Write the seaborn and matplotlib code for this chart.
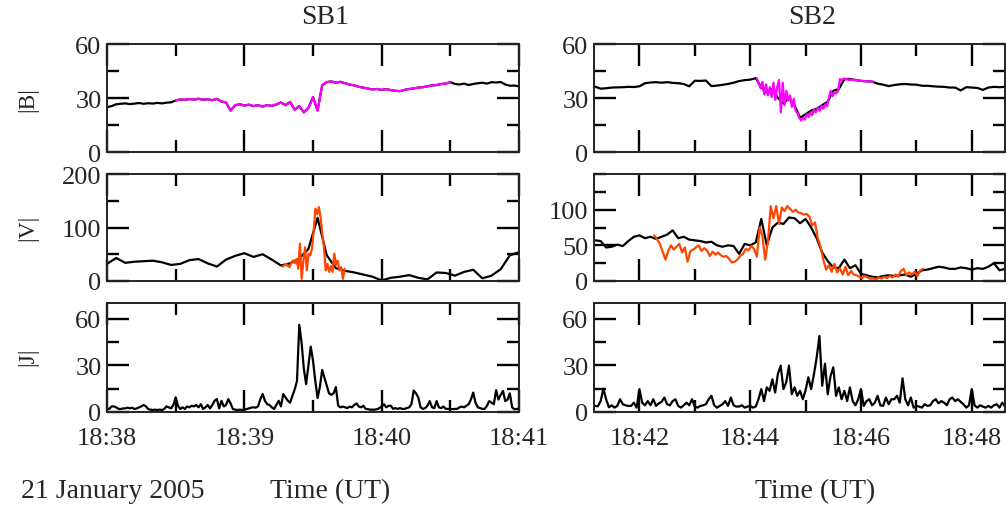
import numpy as np
import matplotlib
matplotlib.use("Agg")
import matplotlib.pyplot as plt
from matplotlib.ticker import MultipleLocator, FixedLocator, FuncFormatter
import seaborn as sns

# times are minutes after 18:00 UT, 21 January 2005

# ---- SB1 ----
# |B| spin res, 2 s cadence from 18:38:00
sb1_b = [24.9, 25.5, 26.5, 26.8, 27.0, 26.6, 26.9, 27.2, 26.8, 27.1,
         26.9, 27.3, 27.0, 27.4, 27.6, 28.6, 29.2, 29.0, 29.4, 29.1,
         29.6, 29.0, 29.3, 28.8, 29.5, 28.0, 27.5, 23.0, 26.0, 26.5,
         25.8, 26.3, 25.5, 26.0, 25.2, 26.1, 25.6, 26.4, 27.5, 26.0,
         27.8, 23.5, 25.5, 22.0, 24.5, 30.5, 23.0, 37.0, 38.8, 39.2,
         38.5, 39.0, 38.2, 37.5, 37.0, 36.2, 35.8, 35.2, 34.8, 35.0,
         34.5, 34.9, 34.4, 34.0, 33.8, 34.5, 35.0, 35.3, 35.8, 36.0,
         36.5, 37.0, 37.2, 37.8, 38.0, 38.8, 37.8, 37.5, 38.0, 37.2,
         37.8, 38.2, 38.5, 38.0, 38.8, 38.6, 38.9, 37.5, 36.8, 36.9,
         36.5]
sb1_b_t0, sb1_b_dt = 38.0, 2 / 60
sb1_hr = (38.5, 40.5)  # interval shown in magenta

# |V| ions, 4 s cadence from 18:38:00
sb1_v = [32, 43, 34, 36, 37, 38, 35, 30, 32, 39,
         41, 33, 27, 40, 47, 52, 45, 50, 40, 29,
         33, 42, 60, 118, 48, 24, 19, 16, 12, 8,
         1, 6, 8, 11, 6, 3, 16, 15, 10, 17,
         21, 5, 10, 22, 48, 54]
sb1_v_t0, sb1_v_dt = 38.0, 4 / 60

# |V| electrons (orange), 0.75 s cadence
sb1_ve = [27, 30, 32, 28, 26, 35, 38.5, 33, 41, 23,
          70, 4, 38, 63, 20, 51, 48, 60, 94, 135,
          125, 138, 119, 88, 63, 20, 32, 17, 28, 17,
          51, 30, 38, 20, 26, 4, 23]
sb1_ve_t0, sb1_ve_dt = 39.28, 0.75 / 60

# |J|, 1 s cadence from 18:38:00
sb1_j = [1.9, 2.0, 3.6, 3.6, 3.0, 2.0, 1.9, 2.3, 2.3, 2.8,
         2.3, 2.8, 1.9, 2.3, 3.0, 3.6, 4.5, 3.6, 1.9, 1.5,
         1.3, 1.5, 1.3, 1.5, 1.3, 1.9, 3.6, 3.0, 2.3, 4.5,
         9.4, 4.0, 1.9, 3.0, 1.9, 3.6, 3.0, 4.0, 3.6, 4.5,
         3.0, 5.0, 1.9, 3.0, 4.5, 2.3, 4.5, 7.2, 8.3, 2.3,
         7.2, 3.6, 4.5, 8.3, 5.5, 1.9, 1.5, 1.3, 1.5, 1.3,
         1.5, 1.9, 2.3, 2.8, 3.0, 2.8, 3.6, 8.3, 11.5, 7.2,
         5.0, 4.5, 3.0, 1.9, 4.5, 7.2, 3.6, 11.5, 9.4, 7.2,
         6.0, 10.4, 14.5, 19.8, 56.0, 44.7, 27.7, 17.9, 30.0, 42.0,
         33.0, 20.0, 9.0, 16.0, 27.0, 22.0, 17.0, 12.0, 11.0, 12.0,
         16.0, 4.0, 3.0, 3.5, 3.0, 2.5, 3.5, 3.0, 4.5, 5.5,
         3.5, 3.0, 4.0, 2.0, 1.8, 1.5, 1.5, 1.5, 1.8, 2.5,
         3.5, 5.0, 3.0, 4.0, 4.0, 2.0, 2.5, 2.0, 2.5, 2.0,
         2.0, 2.5, 3.0, 5.0, 13.8, 12.0, 9.4, 3.0, 2.0, 2.5,
         4.0, 7.0, 3.0, 2.5, 7.0, 3.0, 2.5, 3.5, 2.0, 2.0,
         2.0, 1.8, 2.0, 2.0, 3.0, 3.5, 3.0, 4.0, 5.0, 8.0,
         12.5, 6.0, 3.0, 2.5, 2.0, 2.0, 4.0, 7.0, 6.0, 5.0,
         14.0, 8.0, 11.0, 13.5, 7.0, 8.0, 12.0, 3.0, 1.8, 2.0,
         2.0]
sb1_j_t0, sb1_j_dt = 38.0, 1 / 60

# ---- SB2 ----
# |B| spin res, 6 s cadence from 18:41:12
sb2_b = [36.3, 35.2, 35.4, 35.8, 35.9, 36.0, 36.2, 36.1, 36.5, 38.2,
         38.6, 38.8, 38.5, 38.8, 38.4, 38.2, 37.8, 36.5, 39.6, 39.5,
         39.7, 36.6, 36.9, 37.3, 37.8, 38.5, 39.4, 39.9, 40.2, 41.0,
         36.0, 33.0, 35.0, 30.0, 27.0, 30.0, 26.0, 19.0, 21.0, 23.0,
         24.0, 26.0, 28.0, 34.0, 35.0, 40.5, 40.6, 40.0, 39.5, 39.3,
         39.1, 38.0, 37.4, 36.6, 37.2, 37.6, 37.8, 37.5, 37.4, 36.8,
         36.8, 36.5, 36.3, 36.2, 35.8, 35.8, 34.2, 36.0, 35.8, 35.6,
         34.5, 35.8, 36.2, 36.0, 36.2]
sb2_b_t0, sb2_b_dt = 41.2, 0.1

# |B| high res (magenta), 2 s cadence from 18:44:07
sb2_bh = [41.0, 38.0, 35.5, 39.0, 32.0, 37.5, 31.5, 36.0, 30.5, 38.5,
          29.0, 36.0, 40.0, 22.0, 38.5, 26.0, 34.0, 28.5, 31.5, 25.0,
          29.5, 23.0, 21.5, 19.0, 17.5, 19.0, 18.0, 21.0, 19.5, 22.0,
          20.5, 23.5, 22.0, 24.5, 23.0, 25.5, 24.0, 26.5, 25.5, 30.0,
          34.0, 31.0, 33.5, 32.5, 34.0, 40.5, 40.0, 40.8, 40.2, 40.5,
          40.0, 40.3, 39.9, 40.1, 39.7, 39.9, 39.5, 39.6, 39.3, 39.4,
          39.1, 39.2, 39.0, 39.1]
sb2_bh_t0, sb2_bh_dt = 44.12, 2 / 60

# |V| ions, 6 s cadence from 18:41:12
sb2_v = [57, 56, 47, 48, 51, 49, 56, 62, 64, 60,
         62, 59, 62, 65, 71, 60, 62, 58, 57, 56,
         54, 55, 50, 48, 50, 49, 38, 52, 50, 54,
         87, 50, 75, 82, 80, 89, 88, 81, 87, 75,
         60, 40, 28, 19, 18, 30, 18, 22, 10, 8,
         6, 5, 7, 8, 7, 8, 9, 6, 10, 15,
         16, 18, 20, 19, 17, 17, 19, 18, 16, 18,
         17, 20, 25, 15, 17]
sb2_v_t0, sb2_v_dt = 41.2, 0.1

# |V| electrons (orange), 3 s cadence from 18:42:16
sb2_ve = [64, 58, 52, 41, 30, 42, 50, 44, 48, 52,
          40, 47, 27, 42, 44, 47, 50, 42, 46, 43,
          35, 41, 37, 40, 36, 34, 35, 31, 26, 27,
          30, 35, 38, 45, 43, 49, 45, 34, 75, 63,
          30, 55, 105, 88, 105, 80, 103, 98, 105, 101,
          97, 100, 96, 95, 93, 94, 90, 78, 82, 60,
          48, 30, 16, 22, 13, 24, 12, 18, 9, 20,
          8, 14, 9, 8, 6, 4, 7, 5, 3, 4,
          1.5, 5, 3.5, 6, 4, 7, 5, 9, 6, 14,
          17, 8, 12, 9, 13, 7, 15, 17]
sb2_ve_t0, sb2_ve_dt = 42.27, 0.05

# |J|, 3 s cadence from 18:41:12
sb2_j = [3.9, 3.7, 7.0, 15.0, 8.0, 3.0, 4.3, 2.8, 3.9, 8.2,
         5.0, 4.3, 3.9, 3.9, 6.0, 2.8, 14.7, 6.0, 4.3, 7.0,
         4.3, 8.2, 3.9, 5.6, 6.5, 9.3, 5.0, 4.3, 7.0, 8.2,
         3.9, 2.8, 4.3, 6.0, 4.3, 8.2, 3.5, 2.8, 3.9, 4.3,
         5.0, 8.2, 10.4, 4.3, 2.8, 3.9, 5.0, 7.0, 3.9, 9.3,
         4.3, 3.5, 3.5, 4.3, 2.8, 3.5, 3.9, 2.8, 3.5, 8.2,
         14.7, 7.0, 15.8, 13.6, 21.0, 12.5, 24.4, 29.8, 14.7, 19.0,
         29.8, 11.4, 15.8, 10.4, 13.6, 8.2, 14.0, 22.3, 14.7, 24.0,
         35.0, 48.8, 16.8, 31.0, 11.4, 23.0, 28.7, 10.4, 15.8, 8.2,
         13.6, 7.0, 15.8, 7.0, 4.3, 8.2, 14.7, 3.9, 7.0, 8.2,
         4.3, 6.0, 10.4, 4.3, 3.9, 9.3, 5.0, 8.2, 8.2, 10.4,
         6.0, 21.6, 8.2, 4.3, 9.3, 2.8, 3.9, 3.5, 2.8, 5.0,
         3.9, 4.3, 7.0, 8.2, 5.6, 7.0, 6.0, 4.3, 8.2, 9.3,
         7.0, 8.2, 6.5, 5.0, 2.8, 4.3, 14.7, 4.3, 2.8, 4.3,
         3.5, 2.8, 3.9, 2.8, 4.3, 5.0, 2.8, 6.0, 3.5]
sb2_j_t0, sb2_j_dt = 41.2, 0.05


def times(vals, t0, dt):
    return t0 + dt * np.arange(len(vals))


sns.set_style("ticks")
plt.rcParams["font.family"] = ["Liberation Serif", "DejaVu Serif"]
plt.rcParams["axes.linewidth"] = 1.4

fig = plt.figure(figsize=(10.07, 5.06), dpi=100)

W, H = 1007, 506
cols = [(107, 519), (594, 1005)]
rows = [(45, 153), (175, 282), (304, 413)]


def make_ax(c, r):
    x0, x1 = cols[c]
    y0, y1 = rows[r]
    return fig.add_axes([x0 / W, 1 - y1 / H, (x1 - x0) / W, (y1 - y0) / H])


axes = [[make_ax(c, r) for c in range(2)] for r in range(3)]

lw = 1.6
black = "black"
magenta = "#ff00ff"
orange = "#ff4500"

# SB1
t = times(sb1_b, sb1_b_t0, sb1_b_dt)
sns.lineplot(x=t, y=sb1_b, ax=axes[0][0], color=black, lw=lw, estimator=None)
m = (t >= sb1_hr[0]) & (t <= sb1_hr[1])
sns.lineplot(x=t[m], y=np.array(sb1_b)[m], ax=axes[0][0], color=magenta, lw=lw, estimator=None)

sns.lineplot(x=times(sb1_v, sb1_v_t0, sb1_v_dt), y=sb1_v, ax=axes[1][0],
             color=black, lw=lw, estimator=None)
sns.lineplot(x=times(sb1_ve, sb1_ve_t0, sb1_ve_dt), y=sb1_ve, ax=axes[1][0],
             color=orange, lw=lw, estimator=None)
sns.lineplot(x=times(sb1_j, sb1_j_t0, sb1_j_dt), y=sb1_j, ax=axes[2][0],
             color=black, lw=lw, estimator=None)

# SB2
sns.lineplot(x=times(sb2_b, sb2_b_t0, sb2_b_dt), y=sb2_b, ax=axes[0][1],
             color=black, lw=lw, estimator=None)
sns.lineplot(x=times(sb2_bh, sb2_bh_t0, sb2_bh_dt), y=sb2_bh, ax=axes[0][1],
             color=magenta, lw=lw, estimator=None)
sns.lineplot(x=times(sb2_v, sb2_v_t0, sb2_v_dt), y=sb2_v, ax=axes[1][1],
             color=black, lw=lw, estimator=None)
sns.lineplot(x=times(sb2_ve, sb2_ve_t0, sb2_ve_dt), y=sb2_ve, ax=axes[1][1],
             color=orange, lw=lw, estimator=None)
sns.lineplot(x=times(sb2_j, sb2_j_t0, sb2_j_dt), y=sb2_j, ax=axes[2][1],
             color=black, lw=lw, estimator=None)

fmt = FuncFormatter(lambda v, p: "18:%02d" % int(round(v)))
# (ylim top, labelled ticks, minor step)
yspec = [[(60, [0, 30, 60], 15), (60, [0, 30, 60], 15)],
         [(200, [0, 100, 200], 50), (150, [0, 50, 100], 25)],
         [(70, [0, 30, 60], 15), (70, [0, 30, 60], 15)]]

for r in range(3):
    for c in range(2):
        ax = axes[r][c]
        hi, majors, mnr = yspec[r][c]
        ax.set_ylim(0, hi)
        ax.yaxis.set_major_locator(FixedLocator(majors))
        ax.yaxis.set_minor_locator(MultipleLocator(mnr))
        if c == 0:
            ax.set_xlim(38, 41)
            ax.xaxis.set_major_locator(MultipleLocator(1))
            ax.xaxis.set_minor_locator(MultipleLocator(0.5))
        else:
            ax.set_xlim(41.18, 48.6)
            ax.xaxis.set_major_locator(MultipleLocator(2))
            ax.xaxis.set_minor_locator(MultipleLocator(1))
        ax.xaxis.set_major_formatter(fmt)
        ax.tick_params(which="both", direction="in", top=True, right=True,
                       width=1.7, labelsize=19, color="black")
        ax.tick_params(which="major", length=16)
        ax.tick_params(which="minor", length=8.5)
        ax.tick_params(axis="y", pad=4)
        ax.tick_params(axis="x", pad=11)
        if r < 2:
            ax.tick_params(axis="x", labelbottom=False)
        ax.set_xlabel("")
        ax.set_ylabel("")
        for s in ax.spines.values():
            s.set_visible(True)
            s.set_color("#222222")

# titles and labels
fig.text(325 / W, 1 - 18 / H, "SB1", ha="center", va="center", fontsize=20)
fig.text(812 / W, 1 - 18 / H, "SB2", ha="center", va="center", fontsize=20)
for lab, yc in [("|B|", 100), ("|V|", 228), ("|J|", 357)]:
    fig.text(28 / W, 1 - yc / H, lab, ha="center", va="center", rotation=90, fontsize=17)
fig.text(113 / W, 1 - 492 / H, "21 January 2005", ha="center", va="center", fontsize=20)
fig.text(330 / W, 1 - 492 / H, "Time (UT)", ha="center", va="center", fontsize=20)
fig.text(815 / W, 1 - 492 / H, "Time (UT)", ha="center", va="center", fontsize=20)

fig.savefig("out.png", dpi=100)
